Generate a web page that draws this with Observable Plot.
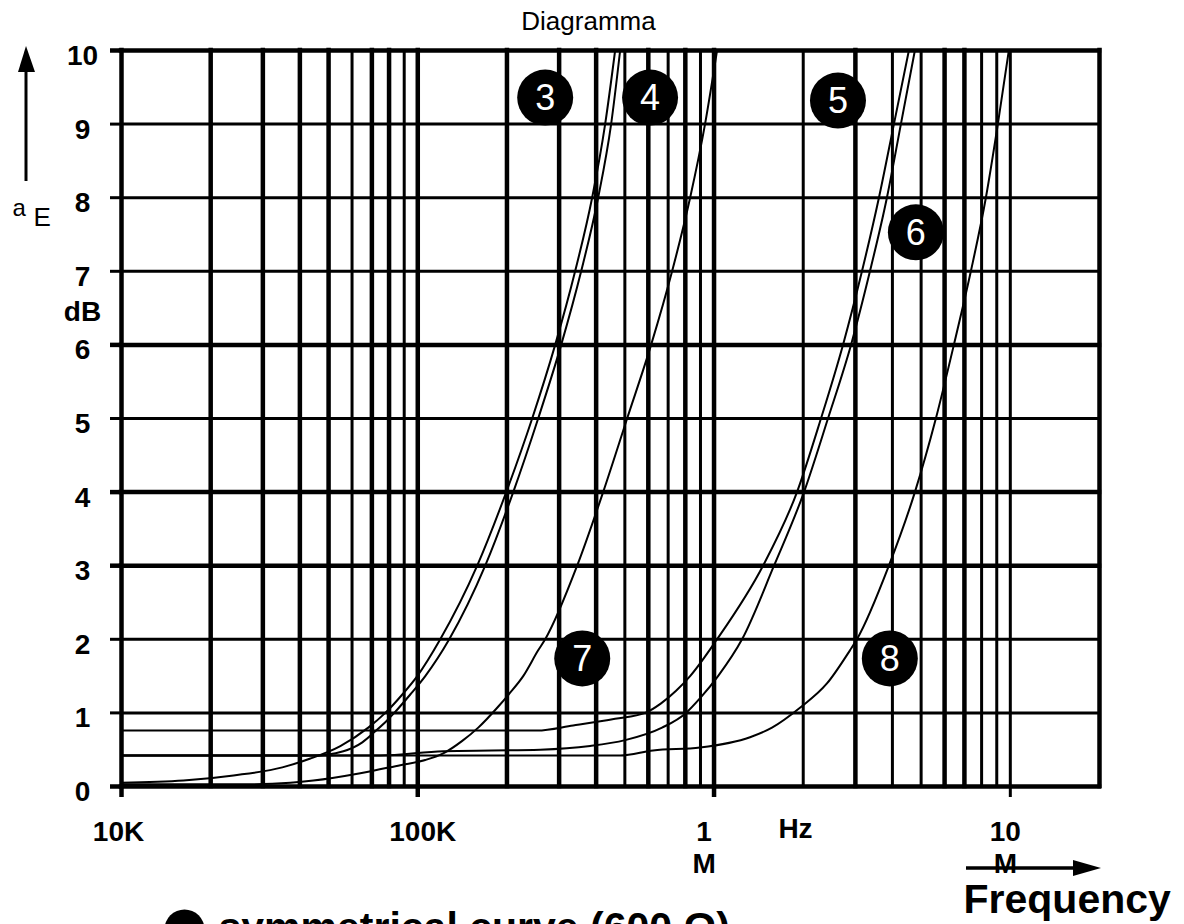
<!DOCTYPE html>
<html>
<head>
<meta charset="utf-8">
<script src="https://cdn.jsdelivr.net/npm/d3@7"></script>
<script src="https://cdn.jsdelivr.net/npm/@observablehq/plot@0.6"></script>
<style>
  html, body { margin: 0; padding: 0; background: #fff; overflow: hidden; }
  #chart svg { display: block; }
</style>
</head>
<body>
<div id="chart"></div>
<script>
// ---- grid / tick values ----
const xGridThick = [1e4, 2e4, 3e4, 4e4, 5e4, 7e4, 8e4, 1e5, 2e5, 3e5, 4e5, 6e5, 8e5, 1e6, 3e6, 6e6, 7e6, 2e7];
const xGridThin  = [6e4, 9e4, 5e5, 7e5, 9e5, 2e6, 4e6, 5e6, 8e6, 9e6, 1e7];
const yGridThick = [0, 3, 4, 6, 10];
const yGridThin  = [1, 2, 5, 7, 8, 9];
const yTickLabels = [0, 1, 2, 3, 4, 5, 6, 7, 8, 9, 10];
const xTickLabels = [
  {f: 1e4, label: "10K"},
  {f: 1e5, label: "100K"},
  {f: 1e6, label: "1\nM"},
  {f: 1e7, label: "10\nM"}
];

// ---- curves: [frequency Hz, attenuation dB] ----
const curve3 = [[10000,0.05],[16190,0.08],[23870,0.15],[34910,0.26],[43400,0.38],[54780,0.55],[68080,0.80],[77710,1.00],[88670,1.25],[99610,1.50],[119100,2.0],[158700,3.0],[198900,4.0],[243300,5.0],[290900,6.0],[339700,7.0],[387700,8.0],[429000,9.0],[463600,10.0]];
const curve4 = [[10000,0.42],[44090,0.42],[56080,0.48],[64990,0.60],[71880,0.75],[78900,0.90],[83300,1.00],[94340,1.25],[106000,1.50],[127700,2.0],[168900,3.0],[210000,4.0],[254900,5.0],[304800,6.0],[356000,7.0],[406300,8.0],[449400,9.0],[482000,10.0]];
const curve5 = [[10000,0.76],[252900,0.76],[334500,0.83],[463600,0.92],[585300,1.00],[662500,1.13],[744500,1.30],[830300,1.50],[1023600,2.0],[1463200,3.0],[1905500,4.0],[2295700,5.0],[2724000,6.0],[3157000,7.0],[3602000,8.0],[4047000,9.0],[4546000,10.0]];
const curve6 = [[10000,0.42],[74730,0.42],[121900,0.48],[258900,0.50],[381700,0.55],[501000,0.63],[667700,0.80],[804500,1.00],[897300,1.20],[1031600,1.50],[1243100,2.0],[1593500,3.0],[2011900,4.0],[2424000,5.0],[2899100,6.0],[3359000,7.0],[3832300,8.0],[4272600,9.0],[4763000,10.0]];
const curve7 = [[10000,0.03],[27230,0.03],[37150,0.05],[44420,0.08],[63990,0.18],[87300,0.29],[106000,0.36],[121900,0.45],[141300,0.62],[160000,0.80],[185400,1.07],[203500,1.26],[226900,1.50],[254900,1.85],[269200,2.0],[345100,3.0],[422300,4.0],[508900,5.0],[613100,6.0],[721800,7.0],[830300,8.0],[932400,9.0],[1023600,10.0]];
const curve8 = [[10000,0.42],[482000,0.42],[622600,0.49],[897300,0.53],[1323000,0.67],[1569000,0.80],[1949800,1.07],[2405000,1.40],[2875500,1.85],[3035800,2.0],[3891800,3.0],[4763500,4.0],[5606700,5.0],[6448300,6.0],[7358500,7.0],[8269600,8.0],[9075800,9.0],[9884000,10.0]];

// ---- circled curve numbers ----
const curveLabels = [
  {id: "3", f: 269200, db: 9.36},
  {id: "4", f: 608200, db: 9.36},
  {id: "5", f: 2620000, db: 9.32},
  {id: "6", f: 4800000, db: 7.53},
  {id: "7", f: 359000, db: 1.74},
  {id: "8", f: 3920000, db: 1.74}
];

const curves = [["3", curve3], ["4", curve4], ["5", curve5], ["6", curve6], ["7", curve7], ["8", curve8]];
const rows = curves.flatMap(([id, pts]) => pts.map(([f, db]) => ({curve: id, f, db})));

const FONT = "Liberation Sans, Arial, Helvetica, sans-serif";
const labelNudge = {"10K": -3, "100K": 5, "1\nM": -10, "10\nM": -5};

const chart = Plot.plot({
  width: 1184,
  height: 924,
  marginTop: 50,
  marginRight: 85,
  marginBottom: 138,
  marginLeft: 121,
  style: {background: "white", fontFamily: FONT, color: "black", overflow: "visible"},
  x: {type: "log", domain: [1e4, 2e7], label: null},
  y: {domain: [0, 10], label: null},
  marks: [
    Plot.ruleX(xGridThin, {strokeWidth: 3}),
    Plot.ruleX(xGridThick, {strokeWidth: 4.5, strokeLinecap: "square"}),
    Plot.ruleY(yGridThin, {strokeWidth: 3}),
    Plot.ruleY(yGridThick, {strokeWidth: 4.5, strokeLinecap: "square"}),
    Plot.axisY(yGridThick, {tickSize: 11, strokeWidth: 4.5, tickFormat: () => "", label: null}),
    Plot.axisY(yGridThin, {tickSize: 11, strokeWidth: 3, tickFormat: () => "", label: null}),
    Plot.axisX([1e4, 1e5, 1e6], {tickSize: 11, strokeWidth: 4.5, tickFormat: () => "", label: null}),
    Plot.axisX([1e7], {tickSize: 11, strokeWidth: 3, tickFormat: () => "", label: null}),
    Plot.line(rows, {x: "f", y: "db", z: "curve", stroke: "black", strokeWidth: 2, curve: "monotone-x"}),
    Plot.dot(curveLabels, {x: "f", y: "db", r: 28, fill: "black", stroke: null}),
    Plot.text(curveLabels, {x: "f", y: "db", text: "id", fill: "white", fontSize: 36, fontFamily: FONT, lineAnchor: "middle", dy: 1}),
    // y tick labels
    Plot.text(yTickLabels, {y: d => d, text: d => String(d), frameAnchor: "left", dx: -39, dy: 14.5, lineAnchor: "bottom", textAnchor: "middle", fontSize: 28, fontWeight: "bold", fontFamily: FONT}),
    // x tick labels
    ...xTickLabels.map(d => Plot.text([d], {x: "f", text: "label", frameAnchor: "bottom", dx: labelNudge[d.label], dy: 31.5, lineAnchor: "top", lineHeight: 1.14, textAnchor: "middle", fontSize: 28, fontWeight: "bold", fontFamily: FONT})),
    Plot.text(["Hz"], {frameAnchor: "bottom-left", dx: 674, dy: 31.5, lineAnchor: "top", textAnchor: "middle", fontSize: 28, fontWeight: "bold", fontFamily: FONT}),
    Plot.text(["dB"], {frameAnchor: "top-left", dx: -39, dy: 270, lineAnchor: "bottom", textAnchor: "middle", fontSize: 28, fontWeight: "bold", fontFamily: FONT}),
    Plot.text(["a"], {frameAnchor: "top-left", dx: -109, dy: 165, lineAnchor: "bottom", textAnchor: "start", fontSize: 24, fontFamily: FONT}),
    Plot.text(["E"], {frameAnchor: "top-left", dx: -88, dy: 175, lineAnchor: "bottom", textAnchor: "start", fontSize: 26, fontFamily: FONT}),
    Plot.text(["Diagramma"], {frameAnchor: "top", dx: -22, dy: -21, lineAnchor: "bottom", textAnchor: "middle", fontSize: 26, fontFamily: FONT}),
    Plot.text(["Frequency"], {frameAnchor: "bottom-right", dx: -136, dy: 126, lineAnchor: "bottom", textAnchor: "start", fontSize: 41, fontWeight: "bold", fontFamily: FONT}),
    Plot.dot(["legend"], {frameAnchor: "bottom-left", dx: 63, dy: 143, r: 20, fill: "black", stroke: null}),
    Plot.text(["symmetrical curve (600 Ω)"], {frameAnchor: "bottom-left", dx: 97, dy: 154, lineAnchor: "bottom", textAnchor: "start", fontSize: 41, fontWeight: "bold", fontFamily: FONT})
  ]
});

document.getElementById("chart").appendChild(chart);

// axis direction arrows (decorations)
const svg = d3.select(chart);
svg.append("line").attr("x1", 26).attr("y1", 181).attr("x2", 26).attr("y2", 66)
  .attr("stroke", "black").attr("stroke-width", 3);
svg.append("polygon").attr("points", "26,46 18,72 35,72").attr("fill", "black");
svg.append("line").attr("x1", 966).attr("y1", 868).attr("x2", 1080).attr("y2", 868)
  .attr("stroke", "black").attr("stroke-width", 3.5);
svg.append("polygon").attr("points", "1101,868 1073,860 1073,876").attr("fill", "black");
</script>
</body>
</html>
